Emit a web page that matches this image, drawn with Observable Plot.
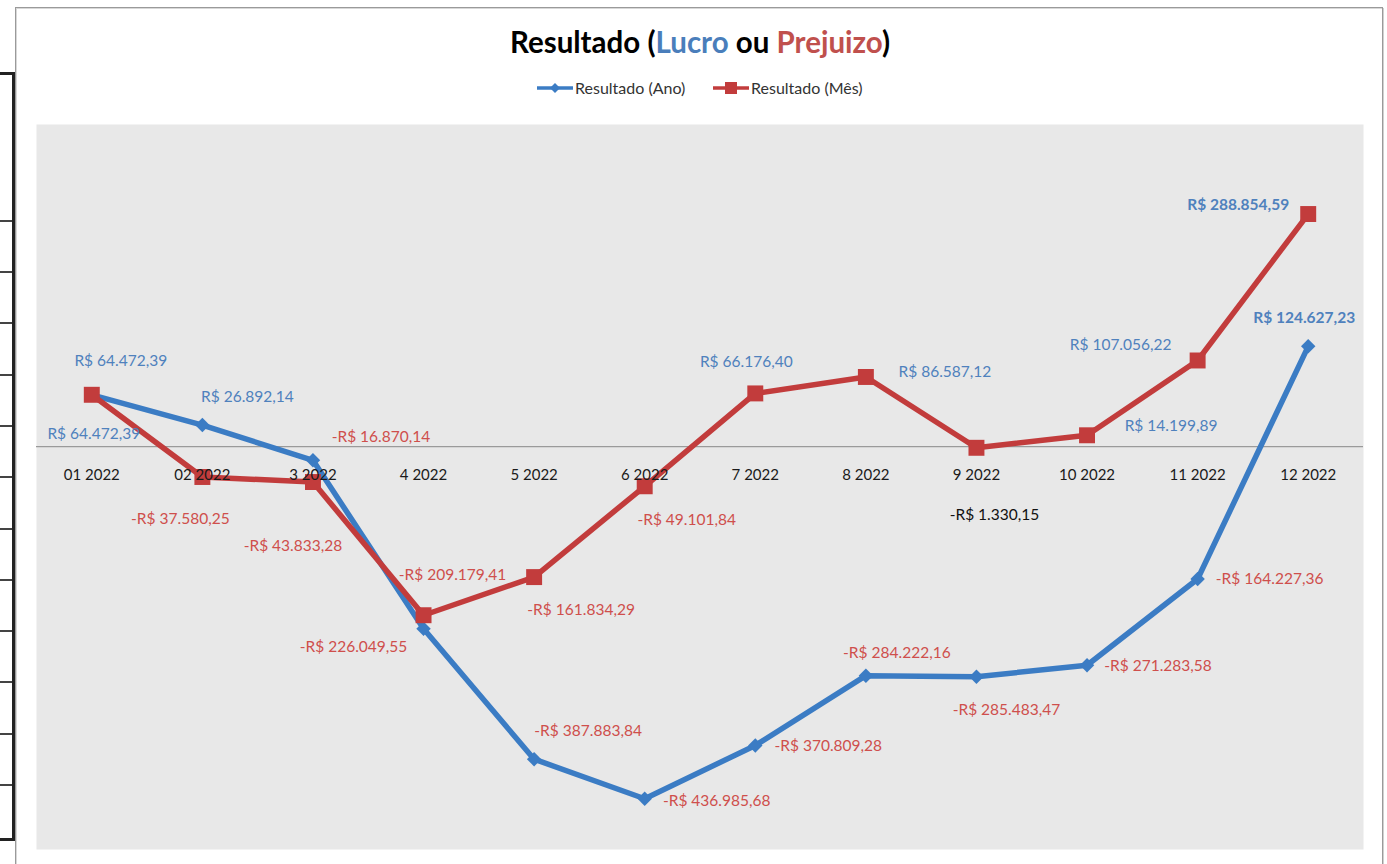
<!DOCTYPE html>
<html>
<head>
<meta charset="utf-8">
<script src="https://cdn.jsdelivr.net/npm/d3@7"></script>
<script src="https://cdn.jsdelivr.net/npm/@observablehq/plot@0.6"></script>
<style>
  html, body { margin: 0; padding: 0; background: #fff; width: 1387px; height: 864px; overflow: hidden; }
  #wrap { position: relative; width: 1387px; height: 864px; font-family: Lato, "Open Sans", sans-serif; }
  #chart { position: absolute; left: 0; top: 0; }
  .box { position: absolute; left: 15px; top: 7px; width: 1366px; height: 900px; border: 1px solid #9a9a9a; box-shadow: 1px 1px 0 #d8d8d8 inset, 1px 1px 0 #d0d0d0; }
  .bracket { position: absolute; left: 0; top: 72px; width: 12px; height: 763px; border-right: 3px solid #222; border-top: 3px solid #222; border-bottom: 3px solid #222; }
  .cellline { position: absolute; left: 0; width: 12px; height: 2px; background: #444; }
  #title { position: absolute; left: 0; width: 1400px; top: 24px; text-align: center; font-weight: 700; font-size: 29.5px; color: #000; }
  #legend { position: absolute; left: 0; top: 78px; width: 1387px; height: 20px; }
  .leg { position: absolute; top: 0; font-size: 16px; color: #333; line-height: 20px; white-space: nowrap; }
</style>
</head>
<body>
<div id="wrap">
  <div class="box"></div>
  <div class="bracket"></div>
  <div id="cells"></div>
  <div id="chart"></div>
  <div id="title">Resultado (<span style="color:#4a7ebb">Lucro</span> ou <span style="color:#c0504d">Prejuizo</span>)</div>
  <div id="legend"></div>
</div>
<script>
// ---- data ----
const months = ["01 2022","02 2022","3 2022","4 2022","5 2022","6 2022","7 2022","8 2022","9 2022","10 2022","11 2022","12 2022"];
const resultadoAno = [64472.39, 26892.14, -16870.14, -226049.55, -387883.84, -436985.68, -370809.28, -284222.16, -285483.47, -271283.58, -164227.36, 124627.23];
const resultadoMes = [64472.39, -37580.25, -43833.28, -209179.41, -161834.29, -49101.84, 66176.40, 86587.12, -1330.15, 14199.89, 107056.22, 288854.59];
const seriesNames = ["Resultado (Ano)", "Resultado (Mês)"];

// ---- label layout (offsets in px from the point) ----
const anoLabelOffsets = [[29,-34],[45,-28],[68,-23],[-70,18],[54,-28],[72,2],[73,1],[31,-23],[30,33],[71,1],[72,0],[-4,-28]];
const mesLabelOffsets = [[2,39],[-22,42],[-20,64],[29,-40],[47,33],[42,34],[-9,-31],[79,-5],[18,67],[84,-9],[-77,-15],[-70,-9]];

const BLUE = "#3b7cc4", RED = "#c23c3c";
const LBLUE = "#4f81bd", LRED = "#cf4f4c";

function brl(v) {
  const s = v < 0 ? "-" : "";
  const [i, d] = Math.abs(v).toFixed(2).split(".");
  return s + "R$ " + i.replace(/\B(?=(\d{3})+(?!\d))/g, ".") + "," + d;
}

const ano = months.map((m, i) => ({month: m, value: resultadoAno[i], series: seriesNames[0]}));
const mes = months.map((m, i) => ({month: m, value: resultadoMes[i], series: seriesNames[1]}));

const labelMarks = [];
ano.forEach((d, i) => {
  labelMarks.push(Plot.text([d], {
    x: "month", y: "value", text: r => brl(r.value),
    dx: anoLabelOffsets[i][0], dy: anoLabelOffsets[i][1],
    fill: d.value < 0 ? LRED : LBLUE, fontWeight: i === 11 ? "bold" : "normal"
  }));
});
mes.forEach((d, i) => {
  labelMarks.push(Plot.text([d], {
    x: "month", y: "value", text: r => brl(r.value),
    dx: mesLabelOffsets[i][0], dy: mesLabelOffsets[i][1],
    fill: i === 8 ? "#111" : (d.value < 0 ? LRED : LBLUE), fontWeight: i === 11 ? "bold" : "normal"
  }));
});

const chart = Plot.plot({
  width: 1387,
  height: 864,
  marginLeft: 36,
  marginRight: 24,
  marginTop: 124,
  marginBottom: 15,
  style: {fontFamily: "Lato, 'Open Sans', sans-serif", fontSize: "15.5px", background: "transparent", overflow: "visible"},
  x: {type: "point", domain: months, padding: 0.5, round: false, axis: null},
  y: {domain: [-500000, 400000], axis: null},
  marks: [
    Plot.frame({fill: "#e8e8e8", stroke: null}),
    Plot.ruleY([0], {stroke: "#9a9a9a", strokeWidth: 1.2}),
    Plot.line(ano, {x: "month", y: "value", stroke: BLUE, strokeWidth: 5.5, strokeLinejoin: "round"}),
    Plot.dot(ano, {x: "month", y: "value", symbol: "diamond2", r: 6.5, fill: BLUE, stroke: null}),
    Plot.line(mes, {x: "month", y: "value", stroke: RED, strokeWidth: 5.5, strokeLinejoin: "round"}),
    Plot.dot(mes, {x: "month", y: "value", symbol: "square", r: 9, fill: RED, stroke: null}),
    ...labelMarks,
    Plot.text(months, {x: d => d, y: () => 0, text: d => d, dy: 28, fill: "#1a1a1a", fontSize: 15})
  ]
});
document.getElementById("chart").appendChild(chart);

// spreadsheet cell lines at the left edge
const cellYs = [220, 271, 322, 374, 425, 476, 528, 579, 630, 681, 733, 784];
const cells = document.getElementById("cells");
cellYs.forEach(y => {
  const el = document.createElement("div");
  el.className = "cellline";
  el.style.top = y + "px";
  cells.appendChild(el);
});

// legend
const legend = document.getElementById("legend");
function legendItem(left, color, shape, label) {
  const wrap = document.createElement("div");
  wrap.className = "leg";
  wrap.style.left = left + "px";
  const svg = d3.create("svg").attr("width", 37).attr("height", 20).style("vertical-align", "top");
  svg.append("line").attr("x1", 0).attr("x2", 36).attr("y1", 10).attr("y2", 10).attr("stroke", color).attr("stroke-width", 3.5);
  if (shape === "diamond") {
    svg.append("path").attr("d", "M18,5 L23,10 L18,15 L13,10 Z").attr("fill", color);
  } else {
    svg.append("rect").attr("x", 12).attr("y", 4).attr("width", 12).attr("height", 12).attr("fill", color);
  }
  wrap.appendChild(svg.node());
  const span = document.createElement("span");
  span.textContent = label;
  span.style.marginLeft = "1px";
  wrap.appendChild(span);
  legend.appendChild(wrap);
}
legendItem(537, BLUE, "diamond", seriesNames[0]);
legendItem(713, RED, "square", seriesNames[1]);
</script>
</body>
</html>
